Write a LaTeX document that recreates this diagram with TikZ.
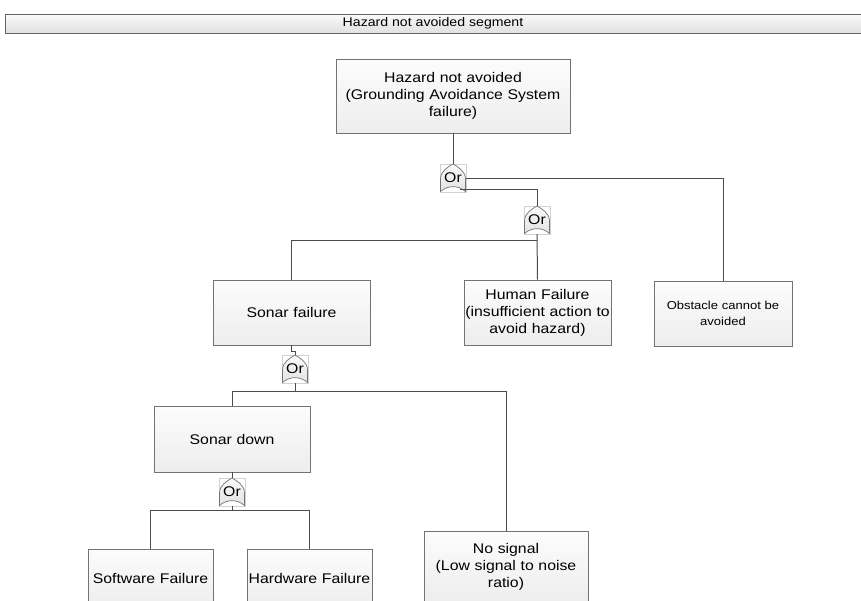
\documentclass[tikz,border=0pt]{standalone}
\usepackage{fontspec}
\setmainfont[FakeStretch=1.13]{Liberation Sans}

\begin{document}
\begin{tikzpicture}[x=1pt,y=-1pt,
    evt/.style={draw=black!55, line width=0.7pt, top color=gray!2, bottom color=gray!14,
        align=center, inner sep=1pt, font=\fontsize{14}{17}\selectfont},
    gateshape/.style={draw=black!55, line width=0.7pt, top color=gray!4, bottom color=gray!22},
    orgate/.style={minimum width=26pt, minimum height=28pt, inner sep=0pt,
        draw=gray!35, line width=0.4pt, font=\fontsize{14}{17}\selectfont},
    wire/.style={draw=black!70, line width=1pt}]
    \clip (0,0) rectangle (861,600);

    % segment header
    \node[draw=black!60, line width=0.7pt, top color=gray!4, bottom color=gray!24,
          minimum width=856pt, minimum height=19pt, inner sep=0pt,
          font=\fontsize{12.5}{14}\selectfont] (seg) at (433,23.5) {Hazard not avoided segment};

    % events
    \node[evt, text width=232pt, minimum height=74pt] (hz) at (453,96)
        {Hazard not avoided\\ (Grounding Avoidance System\\ failure)};
    \node[evt, text width=155pt, minimum height=65pt] (sf) at (291.5,312.5) {Sonar failure};
    \node[evt, text width=145pt, minimum height=65pt] (hf) at (537.5,312.5)
        {Human Failure\\ (insufficient action to\\ avoid hazard)};
    \node[evt, text width=136pt, minimum height=65pt, font=\fontsize{11.5}{16}\selectfont] (ob) at (723,313.5)
        {Obstacle cannot be\\ avoided};
    \node[evt, text width=154pt, minimum height=66pt] (sd) at (232,439) {Sonar down};
    \node[evt, text width=123pt, minimum height=58pt] (sw) at (150.5,578) {Software Failure};
    \node[evt, text width=123pt, minimum height=58pt] (hw) at (309.5,578) {Hardware Failure};
    \node[evt, text width=162pt, minimum height=72pt] (ns) at (506,567)
        {No signal\\ (Low signal to noise\\ ratio)};

    % gates
    \foreach \g/\pos in {g1/{(453,178)}, g2/{(537,220)}, g3/{(295,369)}, g4/{(232,492)}} {
        \node[orgate] (\g) at \pos {};
        \draw[gateshape, shift={\pos}]
            (-12.5,13.5) -- (-12.5,1) .. controls (-12.5,-7) and (-5,-11) .. (0,-14)
            .. controls (5,-11) and (12.5,-7) .. (12.5,1) -- (12.5,13.5)
            .. controls (5,7) and (-5,7) .. cycle;
        \node[font=\fontsize{14}{17}\selectfont, inner sep=0pt] at \pos {Or};
    }

    % connectors
    \coordinate (j1) at ([xshift=-6pt,yshift=3pt]g1.south east);
    \coordinate (j2) at ([yshift=-6pt]g2.south);
    \coordinate (j3) at ([yshift=-8pt]g3.south);
    \coordinate (j4) at ([yshift=-4pt]g4.south);
    \draw[wire] (hz.south) -- (g1.north);
    \draw[wire] (g1.east) -| (ob.north);
    \draw[wire] (g2.north) |- (j1);
    \draw[wire] (g2.south) -- (hf.north);
    \draw[wire] (sf.north) |- (j2);
    \draw[wire] (sf.south) -- ++(0,6) -| (g3.north);
    \draw[wire] (g3.south) -- (j3);
    \draw[wire] (sd.north) |- (j3) -| (ns.north);
    \draw[wire] (sd.south) -- (g4.north);
    \draw[wire] (g4.south) -- (j4);
    \draw[wire] (sw.north) |- (j4) -| (hw.north);
\end{tikzpicture}
\end{document}
